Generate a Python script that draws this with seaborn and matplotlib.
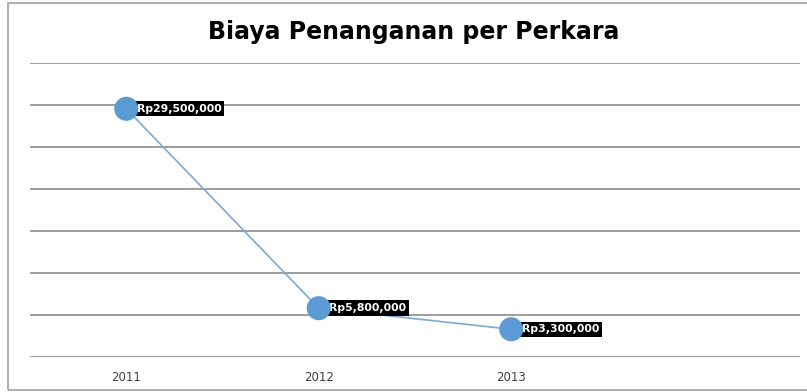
import matplotlib
matplotlib.use("Agg")
import matplotlib.pyplot as plt
import seaborn as sns
import pandas as pd
from matplotlib.patches import Rectangle

years = ["2011", "2012", "2013"]
values = [29500000, 5800000, 3300000]
labels = ["Rp29,500,000", "Rp5,800,000", "Rp3,300,000"]
title = "Biaya Penanganan per Perkara"

sns.set_style("white")
plt.rcParams['font.family'] = ['DejaVu Sans']

df = pd.DataFrame({"year": years, "value": values})

fig = plt.figure(figsize=(8.07, 3.92), dpi=100)
ax = fig.add_axes([30/807, 35/392, 770/807, 294.5/392])

sns.lineplot(data=df, x="year", y="value", ax=ax, color="#7aaad8", linewidth=1.2, zorder=2)
sns.scatterplot(data=df, x="year", y="value", ax=ax, color="#5b9bd5", s=300,
                edgecolor="none", zorder=4)

ax.set_xlim(-0.5, 3.5)
ax.set_ylim(0, 35000000)
ax.set_yticks(range(0, 35000001, 5000000))
ax.yaxis.grid(True, color="#8c8c8c", linewidth=1.2)
ax.set_axisbelow(True)
ax.set_yticklabels([])
ax.tick_params(axis="y", length=0)
ax.tick_params(axis="x", length=0, pad=10, labelsize=8.5, labelcolor="#404040")
for s in ax.spines.values():
    s.set_visible(False)
ax.set_xlabel("")
ax.set_ylabel("")

for i, (v, lab) in enumerate(zip(values, labels)):
    ax.annotate(lab, (i, v), xytext=(7.5, 0), textcoords="offset points",
                ha="left", va="center", color="white", fontsize=7.8, fontweight="bold",
                zorder=3,
                bbox=dict(boxstyle="square,pad=0.25", fc="black", ec="none"))

fig.text(414/807, 1 - 39/392, title, ha="center", va="baseline", fontsize=17,
         fontweight="bold", color="black")

fig.patches.append(Rectangle((8/807, 2/392), 1.0, 387/392, transform=fig.transFigure,
                             fill=False, edgecolor="#b0b0b0", linewidth=1.5))

fig.savefig("out.png", dpi=100)
